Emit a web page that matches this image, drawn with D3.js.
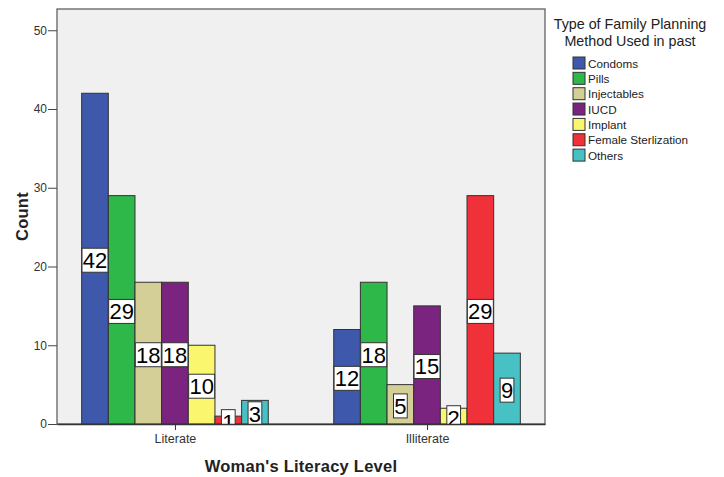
<!DOCTYPE html>
<html><head><meta charset="utf-8">
<script src="https://cdn.jsdelivr.net/npm/d3@7"></script>
<style>body{margin:0;background:#fff;} svg{display:block;font-family:"Liberation Sans",Arial,sans-serif;}</style>
</head><body>
<svg id="chart" width="724" height="477"></svg>
<script>
const groups = ["Literate", "Illiterate"];
const methods = ["Condoms", "Pills", "Injectables", "IUCD", "Implant", "Female Sterlization", "Others"];
const literateCounts = [42, 29, 18, 18, 10, 1, 3];
const illiterateCounts = [12, 18, 5, 15, 2, 29, 9];
const colors = ["#3E58AC", "#2EB84A", "#D4CF96", "#7A2480", "#FAF76E", "#F0313A", "#47C1C4"];
const yTicks = [0, 10, 20, 30, 40, 50];

const counts = {Literate: literateCounts, Illiterate: illiterateCounts};
const svg = d3.select("#chart");
const L = 57, R = 545, T = 9, B = 424;

const x0 = d3.scalePoint().domain(groups).range([L, R]).padding(0.468);
const x1 = d3.scaleBand().domain(methods).range([-93.3, 93.3]).padding(0);
const y = d3.scaleLinear().domain([0, 52.7]).range([B, T]);
const color = d3.scaleOrdinal().domain(methods).range(colors);

svg.append("rect").attr("x", L).attr("y", T).attr("width", R - L).attr("height", B - T)
  .attr("fill", "#F0F0F0").attr("stroke", "#555").attr("stroke-width", 1.2);

svg.append("defs").append("clipPath").attr("id", "clip")
  .append("rect").attr("x", L).attr("y", T).attr("width", R - L).attr("height", B - T);

const data = [];
groups.forEach(g => methods.forEach((m, i) => data.push({g, m, v: counts[g][i]})));

const plot = svg.append("g").attr("clip-path", "url(#clip)");
plot.selectAll("rect.bar").data(data).join("rect").attr("class", "bar")
  .attr("x", d => x0(d.g) + x1(d.m))
  .attr("width", x1.bandwidth())
  .attr("y", d => y(d.v)).attr("height", d => y(0) - y(d.v))
  .attr("fill", d => color(d.m)).attr("stroke", "#333").attr("stroke-width", 1);

const lab = plot.selectAll("g.lab").data(data).join("g").attr("class", "lab")
  .attr("transform", d => `translate(${x0(d.g) + x1(d.m) + x1.bandwidth() / 2},${y(d.v / 2) + 1.6})`);
lab.each(function (d) {
  const g = d3.select(this);
  const t = g.append("text").text(d.v).attr("text-anchor", "middle").attr("dy", "0.36em")
    .attr("font-size", 22).attr("fill", "#000");
  const w = t.node().getComputedTextLength() + 1.5;
  g.insert("rect", "text").attr("x", -w / 2).attr("y", -12).attr("width", w).attr("height", 24)
    .attr("fill", "#fff").attr("stroke", "#333").attr("stroke-width", 1);
});

// Y axis
const yAxis = svg.append("g").attr("transform", `translate(${L},0)`)
  .call(d3.axisLeft(y).tickValues(yTicks).tickSize(9).tickPadding(1).tickSizeOuter(0));
yAxis.select(".domain").remove();
yAxis.selectAll("line").attr("stroke", "#444");
yAxis.selectAll("text").attr("font-size", 12).attr("fill", "#333").attr("font-family", "Liberation Sans, Arial");

// X axis
const xAxis = svg.append("g").attr("transform", `translate(0,${B})`)
  .call(d3.axisBottom(x0).tickSize(6).tickPadding(4).tickSizeOuter(0));
xAxis.select(".domain").attr("stroke", "#333").attr("stroke-width", 1.5);
xAxis.selectAll("line").attr("stroke", "#333");
xAxis.selectAll("text").attr("font-size", 12.5).attr("fill", "#333").attr("font-family", "Liberation Sans, Arial");

svg.append("text").attr("x", (L + R) / 2).attr("y", 472).attr("text-anchor", "middle")
  .attr("font-size", 16.5).attr("font-weight", "bold").attr("letter-spacing", 0.25).attr("fill", "#222").text("Woman's Literacy Level");
svg.append("text").attr("transform", `translate(28,${(T + B) / 2}) rotate(-90)`).attr("text-anchor", "middle")
  .attr("font-size", 16.5).attr("font-weight", "bold").attr("letter-spacing", 0.25).attr("fill", "#222").text("Count");

// Legend
const leg = svg.append("g");
leg.append("text").attr("x", 630).attr("y", 29).attr("text-anchor", "middle").attr("font-size", 14.3).attr("fill", "#222")
  .text("Type of Family Planning");
leg.append("text").attr("x", 630).attr("y", 46).attr("text-anchor", "middle").attr("font-size", 14.3).attr("fill", "#222")
  .text("Method Used in past");
const items = leg.selectAll("g.item").data(methods).join("g").attr("class", "item")
  .attr("transform", (d, i) => `translate(573,${63 + i * 15.35})`);
items.append("rect").attr("x", 0).attr("y", -6).attr("width", 12).attr("height", 12)
  .attr("fill", d => color(d)).attr("stroke", "#333").attr("stroke-width", 1);
items.append("text").attr("x", 15).attr("y", 4.5).attr("font-size", 11.7).attr("fill", "#222").text(d => d);
</script>
</body></html>
